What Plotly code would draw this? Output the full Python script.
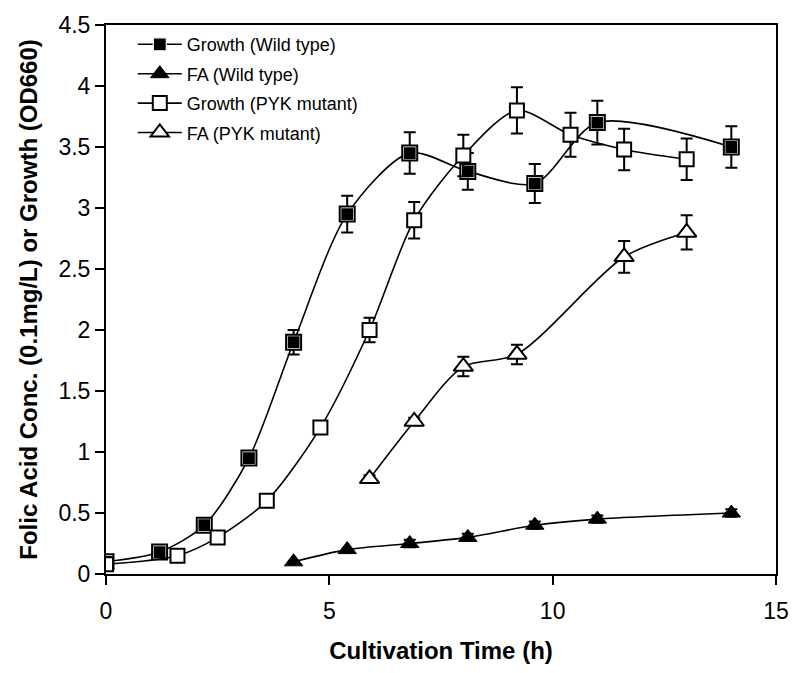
import plotly.graph_objects as go

# Cultivation time (h) and measured values for each strain
t_growth_wt = [0, 1.2, 2.2, 3.2, 4.2, 5.4, 6.8, 8.1, 9.6, 11.0, 14.0]
growth_wt = [0.1, 0.18, 0.4, 0.95, 1.9, 2.95, 3.45, 3.3, 3.2, 3.7, 3.5]
growth_wt_err = [0, 0, 0, 0, 0.1, 0.15, 0.17, 0.15, 0.16, 0.18, 0.17]

t_fa_wt = [4.2, 5.4, 6.8, 8.1, 9.6, 11.0, 14.0]
fa_wt = [0.1, 0.2, 0.25, 0.3, 0.4, 0.45, 0.5]
fa_wt_err = [0, 0, 0.03, 0.03, 0.03, 0.03, 0.03]

t_growth_pyk = [0, 1.6, 2.5, 3.6, 4.8, 5.9, 6.9, 8.0, 9.2, 10.4, 11.6, 13.0]
growth_pyk = [0.08, 0.15, 0.3, 0.6, 1.2, 2.0, 2.9, 3.43, 3.8, 3.6, 3.48, 3.4]
growth_pyk_err = [0, 0, 0, 0, 0, 0.1, 0.15, 0.17, 0.19, 0.18, 0.17, 0.17]

t_fa_pyk = [5.9, 6.9, 8.0, 9.2, 11.6, 13.0]
fa_pyk = [0.78, 1.25, 1.7, 1.8, 2.6, 2.8]
fa_pyk_err = [0.03, 0.03, 0.08, 0.08, 0.13, 0.14]

names = ["Growth (Wild type)", "FA (Wild type)", "Growth (PYK mutant)", "FA (PYK mutant)"]

x_ticks = [0, 5, 10, 15]
y_ticks = [0, 0.5, 1, 1.5, 2, 2.5, 3, 3.5, 4, 4.5]
y_tick_text = ["0", "0.5", "1", "1.5", "2", "2.5", "3", "3.5", "4", "4.5"]

FONT = "Liberation Sans, Arial, sans-serif"
line_style = dict(color="black", width=1.6, shape="spline", smoothing=0.8)


def err(vals):
    return dict(type="data", array=vals, visible=True, color="black", thickness=2, width=6)


fig = go.Figure()

# Wild-type growth: black square with a thin white ring inside a black outline
fig.add_trace(go.Scatter(
    x=t_growth_wt, y=growth_wt, name=names[0], legendgroup="g1",
    mode="lines+markers", line=line_style, error_y=err(growth_wt_err),
    marker=dict(symbol="square", size=13, color="black", line=dict(color="white", width=1.2)),
))
fig.add_trace(go.Scatter(
    x=t_growth_wt, y=growth_wt, showlegend=False, legendgroup="g1", hoverinfo="skip",
    mode="markers",
    marker=dict(symbol="square-open", size=15, color="black", line=dict(color="black", width=2)),
))

# Wild-type folic acid
fig.add_trace(go.Scatter(
    x=t_fa_wt, y=fa_wt, name=names[1], legendgroup="g2",
    mode="lines+markers", line=line_style, error_y=err(fa_wt_err),
    marker=dict(symbol="triangle-up", size=16, color="black", line=dict(color="black", width=1)),
))

# PYK mutant growth
fig.add_trace(go.Scatter(
    x=t_growth_pyk, y=growth_pyk, name=names[2], legendgroup="g3",
    mode="lines+markers", line=line_style, error_y=err(growth_pyk_err),
    marker=dict(symbol="square", size=14, color="white", line=dict(color="black", width=2)),
))

# PYK mutant folic acid
fig.add_trace(go.Scatter(
    x=t_fa_pyk, y=fa_pyk, name=names[3], legendgroup="g4",
    mode="lines+markers", line=line_style, error_y=err(fa_pyk_err),
    marker=dict(symbol="triangle-up", size=17, color="white", line=dict(color="black", width=2)),
))

axis_common = dict(
    showline=True, linecolor="black", linewidth=2, mirror=True,
    ticks="outside", ticklen=9, tickwidth=2, tickcolor="black",
    showgrid=False, zeroline=False,
    tickfont=dict(family=FONT, size=23, color="black"),
)

fig.update_layout(
    width=801, height=673,
    margin=dict(l=106, r=18, t=15, b=99),
    paper_bgcolor="white", plot_bgcolor="white",
    font=dict(family=FONT, color="black"),
    xaxis=dict(
        range=[0, 15], tickvals=x_ticks, ticklabelstandoff=6,
        title=dict(text="<b>Cultivation Time (h)</b>", font=dict(family=FONT, size=24), standoff=20),
        **axis_common,
    ),
    yaxis=dict(
        range=[0, 4.5], tickvals=y_ticks, ticktext=y_tick_text,
        title=dict(text="<b>Folic Acid Conc. (0.1mg/L) or Growth (OD660)</b>",
                   font=dict(family=FONT, size=24), standoff=14),
        **axis_common,
    ),
    legend=dict(
        x=0.04, y=0.998, xanchor="left", yanchor="top",
        bgcolor="rgba(0,0,0,0)", borderwidth=0,
        font=dict(family=FONT, size=18, color="black"),
        traceorder="grouped", tracegroupgap=3, itemwidth=44,
    ),
    showlegend=True,
)

fig.write_html("out.html")
